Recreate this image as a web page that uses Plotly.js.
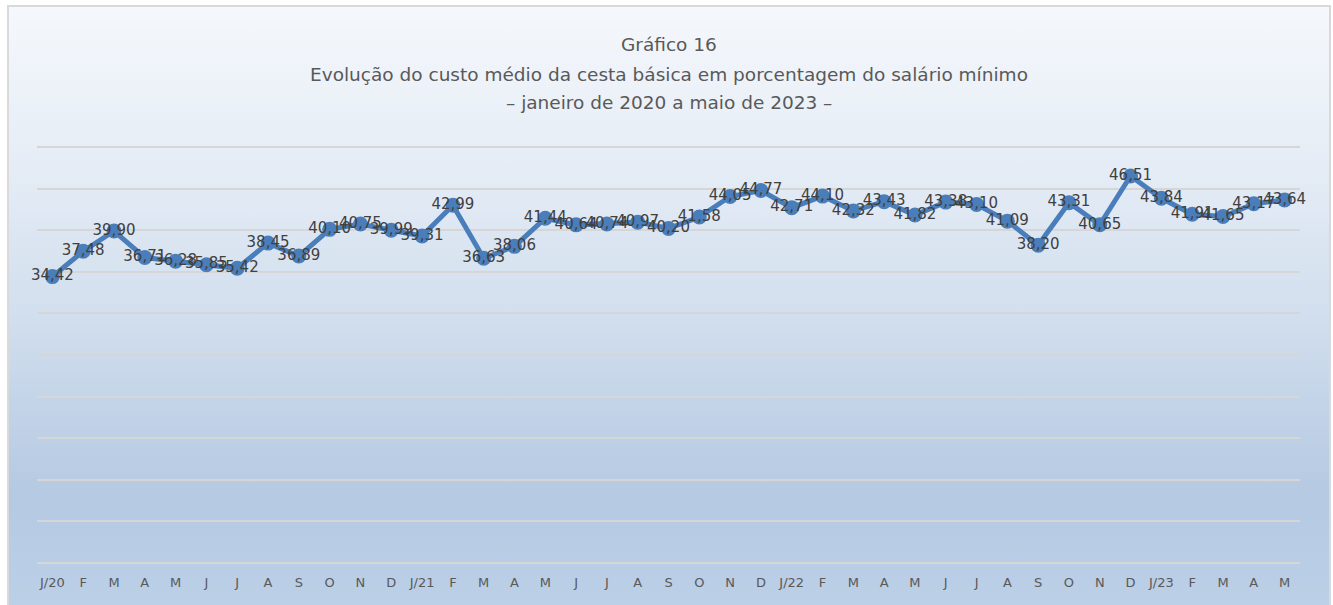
<!DOCTYPE html>
<html>
<head>
<meta charset="utf-8">
<script src="https://cdn.plot.ly/plotly-3.0.1.min.js"></script>
<style>
html,body{margin:0;padding:0;background:#ffffff;width:1333px;height:605px;overflow:hidden;}
#bg{position:absolute;left:7px;top:5px;width:1320px;height:610px;border:2px solid #d9d9d9;
background:linear-gradient(to bottom,#f5f8fc 0%,#e6edf6 25%,#d2dfee 50%,#b5c9e2 80%,#bcd0e8 100%);}
#chart{position:absolute;left:0;top:0;width:1333px;height:605px;}
</style>
</head>
<body>
<div id="bg"></div>
<div id="chart"></div>
<script>
const categories = ["J/20","F","M","A","M","J","J","A","S","O","N","D",
  "J/21","F","M","A","M","J","J","A","S","O","N","D",
  "J/22","F","M","A","M","J","J","A","S","O","N","D",
  "J/23","F","M","A","M"];
const values = [34.42,37.48,39.90,36.71,36.28,35.85,35.42,38.45,36.89,40.10,40.75,39.99,
  39.31,42.99,36.63,38.06,41.44,40.64,40.74,40.97,40.20,41.58,44.05,44.77,
  42.71,44.10,42.32,43.43,41.82,43.38,43.10,41.09,38.20,43.31,40.65,46.51,
  43.84,41.91,41.65,43.17,43.64];
const titleLines = ["Gráfico 16",
  "Evolução do custo médio da cesta básica em porcentagem do salário mínimo",
  "– janeiro de 2020 a maio de 2023 –"];

const idx = categories.map((c,i)=>i);
const FONT = "DejaVu Sans, sans-serif";

const trace = {
  x: idx, y: values, type: 'scatter', mode: 'lines+markers+text',
  line: {color:'#4a7ebb', width:5},
  marker: {color:'#4a7ebb', size:15},
  texttemplate: '%{y:.2f}',
  textposition: 'middle center',
  textfont: {family: FONT, size:15, color:'#404040'},
  hoverinfo: 'skip', cliponaxis:false
};
const H = 605, plotTop = 145, plotBottom = 566;
function py(p){ return (plotBottom - p)/(plotBottom-plotTop); }
const titleY = [44, 74, 103];
const annotations = titleLines.map((t,i)=>({
  text:t, xref:'paper', yref:'paper', x:0.5, y:py(titleY[i]), xanchor:'center', yanchor:'middle',
  showarrow:false, font:{family:FONT, size:18.5, color:'#595959'}
}));
const layout = {
  width:1333, height:605,
  margin:{l:37, r:33, t:plotTop, b:H-plotBottom},
  paper_bgcolor:'rgba(0,0,0,0)', plot_bgcolor:'rgba(0,0,0,0)',
  separators:',.',
  showlegend:false,
  annotations: annotations,
  xaxis:{range:[-0.5, categories.length-0.5], tickmode:'array', tickvals:idx, ticktext:categories,
    showgrid:false, zeroline:false, showline:false, ticks:'', ticklabelstandoff:7,
    tickfont:{family:FONT, size:13, color:'#595959'}, fixedrange:true},
  yaxis:{range:[-0.36,50.24], tickmode:'linear', tick0:0, dtick:5, showticklabels:false, showgrid:true, gridcolor:'#d6d6d6', gridwidth:2,
    zeroline:false, showline:false, ticks:'', fixedrange:true}
};
Plotly.newPlot('chart',[trace],layout,{displayModeBar:false, staticPlot:true});
</script>
</body>
</html>
